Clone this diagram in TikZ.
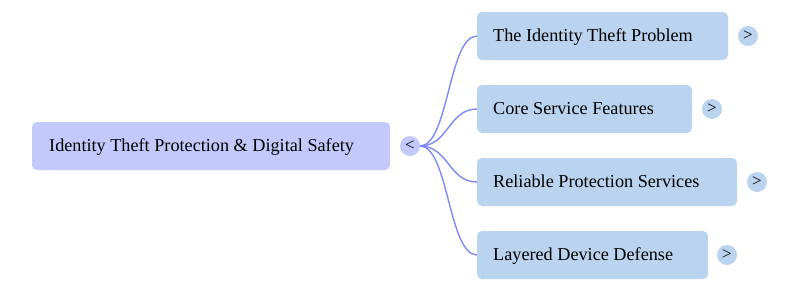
\documentclass[tikz,border=0pt]{standalone}
\usepackage{fontspec}
\setmainfont{Liberation Serif}
\usetikzlibrary{calc}
\definecolor{rootfill}{HTML}{C3CAFB}
\definecolor{childfill}{HTML}{BAD3EF}
\definecolor{linkcol}{HTML}{7E8BF7}
\begin{document}
\begin{tikzpicture}[x=1pt,y=-1pt,
  rootbox/.style={fill=rootfill,rounded corners=5pt,inner sep=0pt},
  childbox/.style={fill=childfill,rounded corners=5pt,inner sep=0pt},
  lbl/.style={anchor=base west,inner sep=0pt,font=\fontsize{18.2}{20}\selectfont},
  toggle/.style={circle,minimum size=20pt,inner sep=0pt,font=\fontsize{17}{18}\selectfont},
  link/.style={draw=linkcol,line width=1.4pt}]
\useasboundingbox (0,0) rectangle (800,292);
% root
\fill[rootbox] (32,122) rectangle (390,170);
\node[lbl] (root) at (49,151) {Identity Theft Protection \& Digital Safety};
\node[toggle,fill=rootfill] (rt) at (410,146) {<};
% children
\fill[childbox] (477,12) rectangle (728,60);
\node[lbl] (c1) at (493,41) {The Identity Theft Problem};
\node[toggle,fill=childfill] (t1) at (748,36) {>};
\coordinate (e1) at (477,36);

\fill[childbox] (477,85) rectangle (692,133);
\node[lbl] (c2) at (493,114) {Core Service Features};
\node[toggle,fill=childfill] (t2) at (712,109) {>};
\coordinate (e2) at (477,109);

\fill[childbox] (477,158) rectangle (737,206);
\node[lbl] (c3) at (493,187) {Reliable Protection Services};
\node[toggle,fill=childfill] (t3) at (757,182) {>};
\coordinate (e3) at (477,182);

\fill[childbox] (477,231) rectangle (708,279);
\node[lbl] (c4) at (493,260) {Layered Device Defense};
\node[toggle,fill=childfill] (t4) at (727,255) {>};
\coordinate (e4) at (477,255);

\coordinate (s) at (420,146);
\foreach \e in {e1,e2,e3,e4}{
  \draw[link] (s) .. controls ($(s)!0.5!(s-|\e)$) and ($(\e)!0.5!(\e-|s)$) .. (\e);
}
\end{tikzpicture}
\end{document}
